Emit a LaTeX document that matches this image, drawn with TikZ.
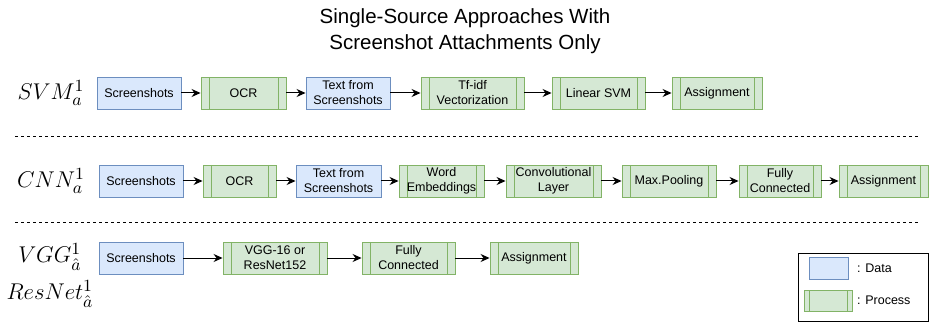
\documentclass[tikz,border=0pt]{standalone}
\usepackage{amssymb}
\usepackage{graphicx}
\usepackage{fontspec}
\setmainfont{Liberation Sans}
\usepackage{tikz}
\usetikzlibrary{arrows,arrows.meta}

\definecolor{datafill}{HTML}{DAE8FC}
\definecolor{dataline}{HTML}{6C8EBF}
\definecolor{procfill}{HTML}{D5E8D4}
\definecolor{procline}{HTML}{82B366}

\newcommand{\modeltag}[1]{\scalebox{1.9}{$#1$}}

\begin{document}
\begin{tikzpicture}[x=1pt, y=-1pt,
        every node/.style={font=\fontsize{12.5}{15}\selectfont, align=center, inner sep=1pt},
        databox/.style={draw=dataline, fill=datafill, line width=0.9pt, minimum height=32},
        procbox/.style={draw=procline, fill=procfill, line width=0.9pt, minimum height=32,
            path picture={
                \draw[procline, line width=0.9pt] ([xshift=#1]path picture bounding box.north west) -- ([xshift=#1]path picture bounding box.south west);
                \draw[procline, line width=0.9pt] ([xshift=-#1]path picture bounding box.north east) -- ([xshift=-#1]path picture bounding box.south east);
            }},
        procbox/.default=8,
        flow/.style={-{Stealth[length=9pt, width=8pt, inset=3pt]}, line width=1pt, black}]

        \useasboundingbox (0,0) rectangle (929,323);

        % title
        \node[font=\fontsize{20.5}{26}\selectfont] (title) at (465,31) {Single-Source Approaches With\\Screenshot Attachments Only};

        % SVM
        \node (svmlab) at (51,93) {\modeltag{SVM_a^1}};
        \node[databox, minimum width=84] (s1) at (139,93) {Screenshots};
        \node[procbox, minimum width=85] (o1) at (243.5,93) {OCR};
        \node[databox, minimum width=84] (t1) at (348,93) {Text from\\Screenshots};
        \node[procbox, minimum width=103] (v1) at (472.5,93) {Tf-idf\\Vectorization};
        \node[procbox, minimum width=93] (l1) at (598.5,93) {Linear SVM};
        \node[procbox, minimum width=90] (a1) at (717,93) {Assignment};
        \draw[flow] (s1) -- (o1);
        \draw[flow] (o1) -- (t1);
        \draw[flow] (t1) -- (v1);
        \draw[flow] (v1) -- (l1);
        \draw[flow] (l1) -- (a1);

        \draw[black, line width=0.8pt, dash pattern=on 3pt off 3pt] (15,136) -- (920,136);

        % CNN
        \node (cnnlab) at (51,181) {\modeltag{CNN_a^1}};
        \node[databox, minimum width=84] (s2) at (141,181) {Screenshots};
        \node[procbox, minimum width=73] (o2) at (239.5,181) {OCR};
        \node[databox, minimum width=85] (t2) at (338.5,181) {Text from\\Screenshots};
        \node[procbox, minimum width=85] (w2) at (441.5,181) {Word\\Embeddings};
        \node[procbox, minimum width=95] (c2) at (553.5,181) {Convolutional\\Layer};
        \node[procbox, minimum width=94] (m2) at (669,181) {Max.Pooling};
        \node[procbox, minimum width=82] (f2) at (780,181) {Fully\\Connected};
        \node[procbox, minimum width=89] (a2) at (883.5,181) {Assignment};
        \draw[flow] (s2) -- (o2);
        \draw[flow] (o2) -- (t2);
        \draw[flow] (t2) -- (w2);
        \draw[flow] (w2) -- (c2);
        \draw[flow] (c2) -- (m2);
        \draw[flow] (m2) -- (f2);
        \draw[flow] (f2) -- (a2);

        \draw[black, line width=0.8pt, dash pattern=on 3pt off 3pt] (15,222) -- (920,222);

        % VGG / ResNet
        \node (vgglab) at (50,257) {\modeltag{VGG_{\hat{a}}^1}};
        \node (reslab) at (50,294) {\modeltag{ResNet_{\hat{a}}^1}};
        \node[databox, minimum width=84] (s3) at (141,258) {Screenshots};
        \node[procbox, minimum width=104] (g3) at (275,258) {VGG-16 or\\ResNet152};
        \node[procbox, minimum width=93] (f3) at (408.5,258) {Fully\\Connected};
        \node[procbox, minimum width=88] (a3) at (534,258) {Assignment};
        \draw[flow] (s3) -- (g3);
        \draw[flow] (g3) -- (f3);
        \draw[flow] (f3) -- (a3);

        % legend
        \draw[black, line width=0.9pt] (798,253) rectangle (928,321);
        \node[databox, minimum width=39, minimum height=22] (datakey) at (828.5,268) {};
        \node[procbox=5, minimum width=48, minimum height=21] (prockey) at (828,300.5) {};
        \node[anchor=west] (datatext) at (856,268) {: Data};
        \node[anchor=west] (proctext) at (856,300.5) {: Process};

\end{tikzpicture}
\end{document}
